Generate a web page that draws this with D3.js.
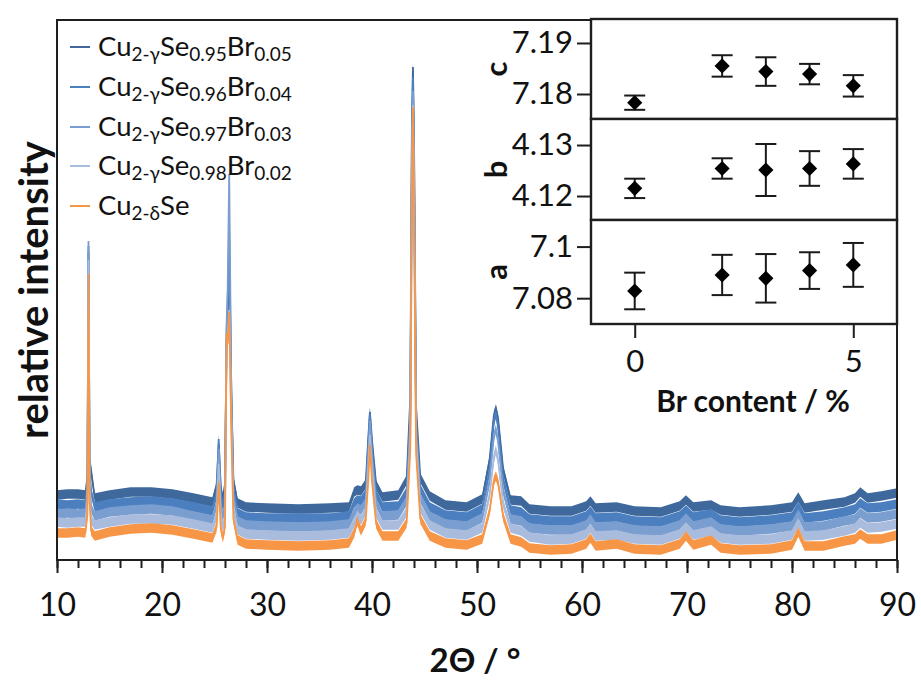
<!DOCTYPE html>
<html>
<head>
<meta charset="utf-8">
<script src="https://cdn.jsdelivr.net/npm/d3@7"></script>
<style>
  body { margin: 0; background: #fff; }
  svg { display: block; }
  text { font-family: Lato, "Open Sans", sans-serif; fill: #111; }
</style>
</head>
<body>
<svg id="chart" width="921" height="681"></svg>
<script>
// ---- XRD patterns: 2θ grid (degrees) and intensities (arb. units) ----
const twoTheta = [10.0, 11.0, 12.0, 12.7, 12.9, 13.0, 13.1, 13.25, 13.6, 15.0,
  17.0, 19.0, 21.0, 23.0, 24.8, 25.2, 25.4, 25.6, 25.8, 26.0,
  26.15, 26.25, 26.4, 26.6, 26.8, 27.2, 28.0, 30.0, 33.0, 36.0,
  37.8, 38.3, 38.6, 38.95, 39.4, 39.65, 39.8, 40.0, 40.4, 41.0,
  42.5, 43.3, 43.65, 43.8, 43.9, 44.0, 44.2, 44.6, 45.5, 47.0,
  49.0, 50.5, 51.2, 51.6, 51.8, 52.0, 52.5, 53.2, 54.2, 55.0,
  57.0, 59.0, 60.4, 60.8, 61.3, 63.3, 65.0, 67.5, 69.3, 69.9,
  70.6, 72.3, 73.2, 75.0, 78.0, 80.0, 80.6, 81.2, 83.0, 85.0,
  86.0, 86.5, 87.2, 88.5, 90.0];

const cu2Se = [27, 27, 28, 27, 46, 286, 61, 29, 24, 28,
  31, 32, 30, 26, 22, 33, 77, 31, 22, 33,
  226, 216, 248, 131, 41, 20, 16, 15, 14, 15,
  17, 27, 39, 29, 39, 81, 115, 79, 36, 24,
  24, 37, 111, 361, 453, 351, 106, 41, 24, 17,
  15, 21, 49, 79, 84, 78, 43, 21, 18, 12,
  10, 11, 16, 22, 14, 16, 11, 10, 16, 24,
  15, 20, 12, 10, 11, 15, 28, 14, 14, 19,
  21, 26, 21, 21, 25];

const br02 = [28, 27, 28, 28, 48, 290, 65, 30, 25, 28,
  31, 31, 30, 26, 22, 34, 86, 33, 22, 35,
  200, 215, 240, 130, 42, 20, 16, 15, 14, 15,
  17, 27, 35, 30, 39, 85, 115, 82, 37, 25,
  25, 38, 115, 370, 445, 360, 110, 42, 25, 17,
  15, 22, 55, 92, 100, 90, 46, 22, 19, 13,
  10, 11, 16, 22, 14, 15, 11, 10, 16, 23,
  15, 19, 12, 10, 11, 15, 27, 14, 15, 19,
  22, 27, 22, 23, 26];

const br03 = [27, 28, 27, 28, 50, 300, 70, 33, 25, 29,
  31, 32, 30, 25, 21, 36, 92, 36, 23, 38,
  215, 250, 367, 150, 45, 20, 16, 15, 14, 15,
  17, 28, 33, 31, 39, 88, 120, 85, 38, 25,
  26, 40, 120, 380, 450, 370, 112, 43, 25, 17,
  15, 23, 60, 104, 112, 100, 50, 22, 20, 13,
  11, 11, 16, 22, 14, 15, 11, 10, 16, 23,
  15, 19, 12, 10, 12, 15, 27, 14, 15, 20,
  22, 28, 23, 24, 27];

const br04 = [28, 27, 28, 27, 48, 280, 65, 40, 25, 28,
  30, 31, 29, 25, 21, 38, 93, 38, 24, 40,
  200, 230, 300, 140, 44, 19, 15, 14, 14, 14,
  16, 29, 32, 31, 38, 88, 118, 85, 38, 25,
  26, 40, 120, 390, 455, 380, 115, 43, 25, 17,
  15, 23, 62, 110, 118, 106, 52, 22, 20, 13,
  11, 11, 16, 21, 14, 15, 11, 10, 16, 22,
  15, 18, 12, 10, 12, 15, 26, 14, 16, 20,
  23, 29, 24, 25, 28];

const br05 = [27, 28, 28, 27, 46, 276, 62, 51, 24, 27,
  30, 30, 28, 24, 20, 36, 78, 34, 23, 38,
  180, 200, 270, 130, 42, 19, 15, 14, 13, 14,
  15, 30, 32, 31, 38, 85, 110, 82, 37, 25,
  27, 42, 125, 400, 455, 385, 115, 44, 26, 17,
  15, 23, 62, 106, 113, 104, 52, 22, 21, 13,
  11, 11, 16, 21, 14, 15, 11, 10, 16, 22,
  15, 17, 12, 10, 12, 15, 25, 14, 17, 20,
  24, 30, 24, 26, 29];

const xMajorTicks = [10, 20, 30, 40, 50, 60, 70, 80, 90];
const xMinorTicks = d3.range(10, 91, 2);

// ---- lattice parameters (Å) versus Br content ----
const brContent = [0, 2, 3, 4, 5];
const latticeC = [7.1783, 7.1855, 7.1844, 7.1839, 7.1816];
const latticeCErr = [0.0014, 0.0021, 0.0028, 0.0020, 0.0021];
const latticeB = [4.1215, 4.1254, 4.1251, 4.1254, 4.1263];
const latticeBErr = [0.0019, 0.0020, 0.0051, 0.0034, 0.0029];
const latticeA = [7.0828, 7.0890, 7.0877, 7.0907, 7.0929];
const latticeAErr = [0.0071, 0.0078, 0.0094, 0.0071, 0.0085];
const cTicks = [7.18, 7.19];
const bTicks = [4.12, 4.13];
const aTicks = [7.08, 7.10];
const brTicks = [0, 5];

// ---- layout ----
const svg = d3.select("#chart");
const plot = { left: 57, right: 897, top: 20, bottom: 560 };
const x = d3.scaleLinear().domain([10, 90]).range([plot.left, plot.right]);
const y = d3.scaleLinear().domain([0, 540]).range([plot.bottom, plot.top]);

svg.append("defs").append("clipPath").attr("id", "plotClip")
  .append("rect")
  .attr("x", plot.left).attr("y", plot.top)
  .attr("width", plot.right - plot.left).attr("height", plot.bottom - plot.top);

// patterns are stacked with a vertical offset; the last one drawn lies on top
const patterns = [
  { values: br05, color: "#3f699c", offset: 38, sub: ["2-γ", "0.95", "0.05"] },
  { values: br04, color: "#4b7fbf", offset: 28, sub: ["2-γ", "0.96", "0.04"] },
  { values: br03, color: "#7a9ed0", offset: 19, sub: ["2-γ", "0.97", "0.03"] },
  { values: br02, color: "#a9bcdd", offset: 10, sub: ["2-γ", "0.98", "0.02"] },
  { values: cu2Se, color: "#f79646", offset: 0, sub: ["2-δ"] }
];

const noiseHalf = 4.7; // half height of the noisy band, px
const gPatterns = svg.append("g").attr("clip-path", "url(#plotClip)");
patterns.forEach(p => {
  const pts = twoTheta.map((t, i) => [t, p.values[i] + p.offset]);
  gPatterns.append("path")
    .attr("d", d3.area()
      .x(d => x(d[0]))
      .y0(d => y(d[1]) + noiseHalf)
      .y1(d => y(d[1]) - noiseHalf)(pts))
    .attr("fill", p.color);
  gPatterns.append("path")
    .attr("d", d3.line().x(d => x(d[0])).y(d => y(d[1]))(pts))
    .attr("fill", "none")
    .attr("stroke", p.color)
    .attr("stroke-width", 1.8);
});

// frame
svg.append("rect")
  .attr("x", plot.left).attr("y", plot.top)
  .attr("width", plot.right - plot.left).attr("height", plot.bottom - plot.top)
  .attr("fill", "none").attr("stroke", "#1e1e1e").attr("stroke-width", 2);

// x axis: minor and major ticks
const gxMinor = svg.append("g").attr("transform", `translate(0,${plot.bottom})`)
  .call(d3.axisBottom(x).tickValues(xMinorTicks).tickSize(8).tickFormat(""));
const gx = svg.append("g").attr("transform", `translate(0,${plot.bottom})`)
  .call(d3.axisBottom(x).tickValues(xMajorTicks).tickSize(13).tickPadding(20).tickFormat(d3.format("d")));
[gxMinor, gx].forEach(g => {
  g.select(".domain").remove();
  g.selectAll(".tick line").attr("stroke", "#1e1e1e").attr("stroke-width", 2);
});
gx.selectAll(".tick text").attr("font-size", 32).attr("font-family", "Lato").attr("fill", "#111");

svg.append("text")
  .attr("x", 475).attr("y", 672)
  .attr("text-anchor", "middle")
  .attr("font-size", 33).attr("font-weight", "bold")
  .text("2Θ / °");

svg.append("text")
  .attr("transform", "translate(48,290) rotate(-90)")
  .attr("text-anchor", "middle")
  .attr("font-size", 40).attr("font-weight", "bold")
  .text("relative intensity");

// legend
const legendRows = [47, 87, 127, 166, 206];
const legend = svg.append("g");
patterns.forEach((p, i) => {
  const cy = legendRows[i];
  legend.append("line")
    .attr("x1", 70).attr("x2", 90).attr("y1", cy).attr("y2", cy)
    .attr("stroke", p.color).attr("stroke-width", 2);
  const t = legend.append("text").attr("x", 98).attr("y", cy + 9).attr("font-size", 27.5);
  t.append("tspan").text("Cu");
  t.append("tspan").attr("font-size", 19).attr("dy", 5).text(p.sub[0]);
  t.append("tspan").attr("dy", -5).text("Se");
  if (p.sub.length > 1) {
    t.append("tspan").attr("font-size", 19).attr("dy", 5).text(p.sub[1]);
    t.append("tspan").attr("dy", -5).text("Br");
    t.append("tspan").attr("font-size", 19).attr("dy", 5).text(p.sub[2]);
  }
});

// ---- inset: lattice parameters ----
const inset = { left: 591, right: 897 };
const xi = d3.scaleLinear().domain([-1, 6]).range([inset.left, inset.right]);
const panels = [
  { label: "c", top: 19, bottom: 119, domain: [7.1751, 7.1947], vals: latticeC, errs: latticeCErr, ticks: cTicks },
  { label: "b", top: 119, bottom: 220, domain: [4.1153, 4.1351], vals: latticeB, errs: latticeBErr, ticks: bTicks },
  { label: "a", top: 220, bottom: 324, domain: [7.0700, 7.1103], vals: latticeA, errs: latticeAErr, ticks: aTicks }
];
const tickFmt = v => String(+v.toFixed(2));
const gInset = svg.append("g");
panels.forEach(pn => {
  const yi = d3.scaleLinear().domain(pn.domain).range([pn.bottom, pn.top]);
  gInset.append("rect")
    .attr("x", inset.left).attr("y", pn.top)
    .attr("width", inset.right - inset.left).attr("height", pn.bottom - pn.top)
    .attr("fill", "#fff").attr("stroke", "#1e1e1e").attr("stroke-width", 2.4);
  const ga = gInset.append("g").attr("transform", `translate(${inset.left},0)`)
    .call(d3.axisLeft(yi).tickValues(pn.ticks).tickSize(14).tickPadding(4).tickFormat(tickFmt));
  ga.select(".domain").remove();
  ga.selectAll(".tick line").attr("stroke", "#1e1e1e").attr("stroke-width", 2);
  ga.selectAll(".tick text").attr("font-size", 31).attr("font-family", "Lato").attr("fill", "#111");
  gInset.append("text")
    .attr("transform", `translate(507,${(pn.top + pn.bottom) / 2}) rotate(-90)`)
    .attr("text-anchor", "middle")
    .attr("font-size", 31).attr("font-weight", "bold")
    .text(pn.label);
  const pts = brContent.map((b, i) => ({ b, v: pn.vals[i], e: pn.errs[i] }));
  const eb = gInset.append("g").attr("stroke", "#1a1a1a").attr("stroke-width", 2);
  pts.forEach(d => {
    const cx = xi(d.b);
    eb.append("line").attr("x1", cx).attr("x2", cx).attr("y1", yi(d.v - d.e)).attr("y2", yi(d.v + d.e));
    eb.append("line").attr("x1", cx - 10.5).attr("x2", cx + 10.5).attr("y1", yi(d.v - d.e)).attr("y2", yi(d.v - d.e));
    eb.append("line").attr("x1", cx - 10.5).attr("x2", cx + 10.5).attr("y1", yi(d.v + d.e)).attr("y2", yi(d.v + d.e));
  });
  gInset.selectAll(null).data(pts).join("path")
    .attr("d", d3.symbol(d3.symbolSquare, 115))
    .attr("transform", d => `translate(${xi(d.b)},${yi(d.v)}) rotate(45)`)
    .attr("fill", "#000");
});
const gxi = gInset.append("g").attr("transform", "translate(0,324)")
  .call(d3.axisBottom(xi).tickValues(brTicks).tickSize(14).tickPadding(12).tickFormat(d3.format("d")));
gxi.select(".domain").remove();
gxi.selectAll(".tick line").attr("stroke", "#1e1e1e").attr("stroke-width", 2);
gxi.selectAll(".tick text").attr("font-size", 31).attr("font-family", "Lato").attr("fill", "#111");
gInset.append("text")
  .attr("x", 753).attr("y", 412)
  .attr("text-anchor", "middle")
  .attr("font-size", 30).attr("font-weight", "bold")
  .text("Br content / %");
</script>
</body>
</html>
